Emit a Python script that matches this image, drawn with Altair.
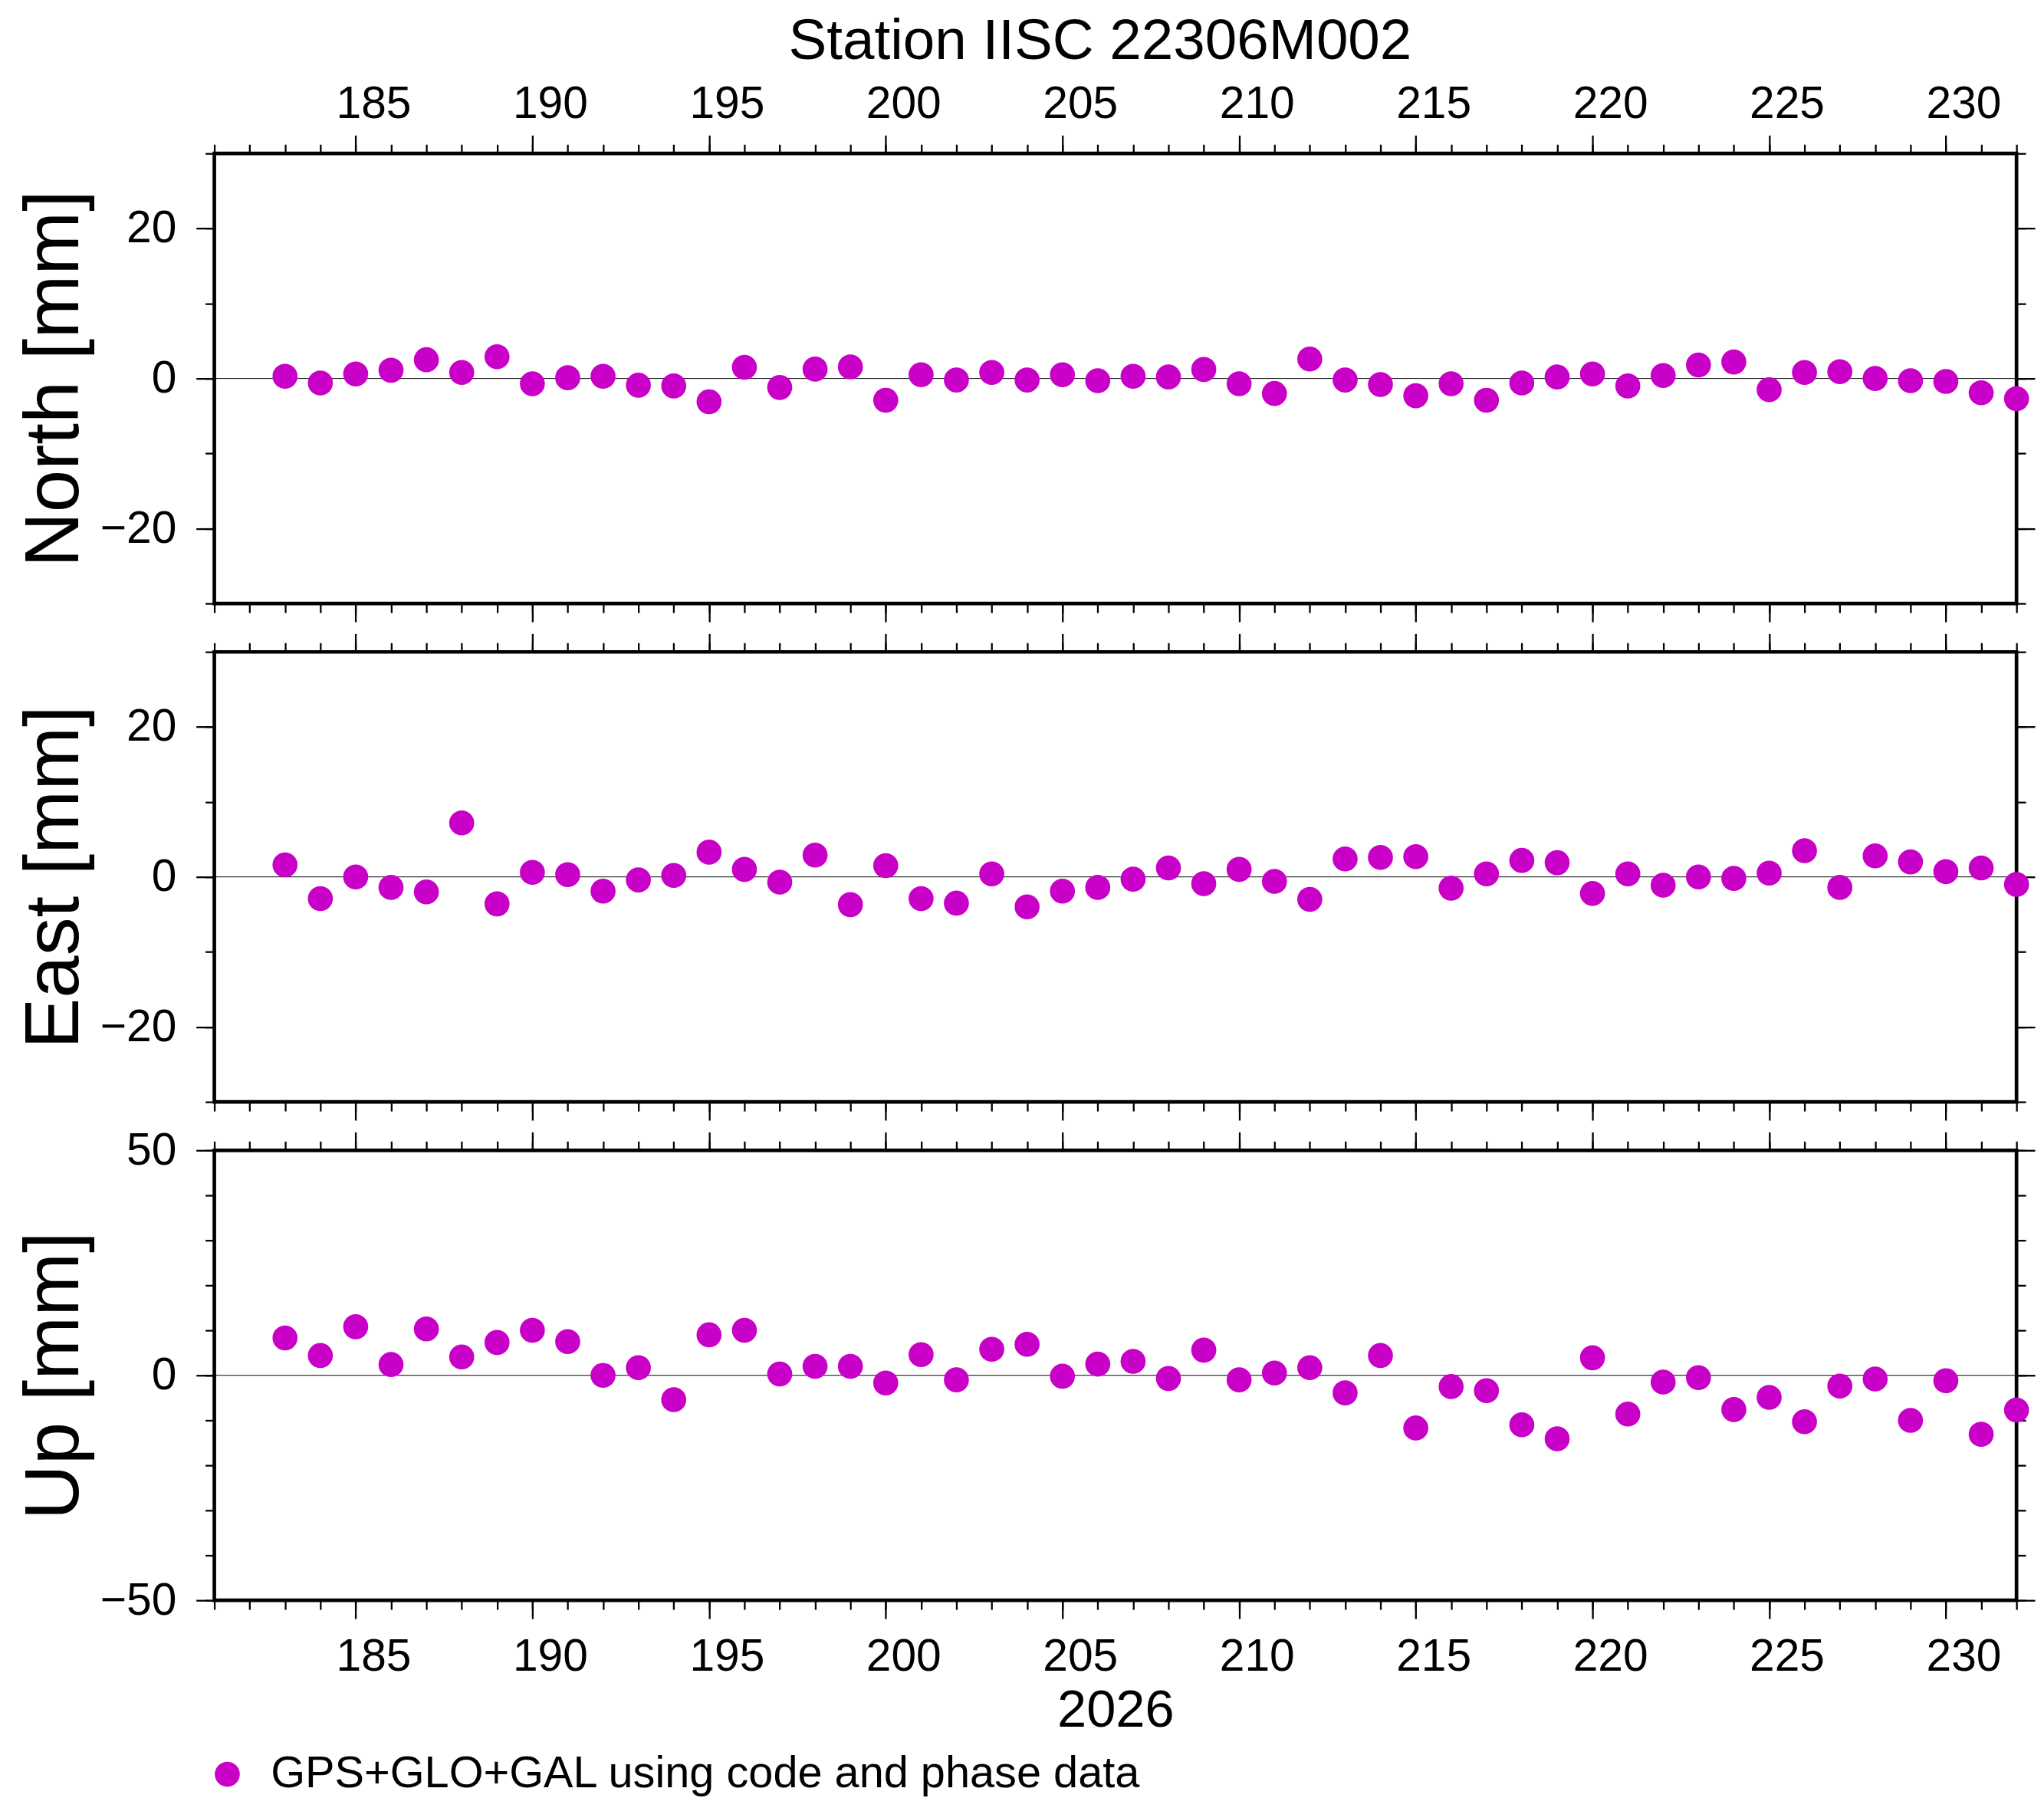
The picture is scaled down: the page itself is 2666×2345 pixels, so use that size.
import altair as alt
import pandas as pd

# day of year 2026, one solution per day
days = list(range(183, 233))

north = [0.3, -0.6, 0.6, 1.1, 2.5, 0.8, 2.9, -0.7, 0.1, 0.3,
         -0.9, -1.0, -3.1, 1.5, -1.2, 1.25, 1.55, -2.9, 0.5, -0.2,
         0.8, -0.2, 0.5, -0.3, 0.3, 0.2, 1.2, -0.7, -2.0, 2.6,
         -0.2, -0.8, -2.3, -0.7, -2.9, -0.6, 0.2, 0.6, -1.0, 0.4,
         1.8, 2.2, -1.5, 0.8, 0.9, 0.0, -0.3, -0.4, -1.9, -2.7]
east = [1.6, -2.9, 0.0, -1.4, -2.0, 7.2, -3.6, 0.6, 0.3, -1.9,
        -0.4, 0.2, 3.3, 1.0, -0.7, 2.9, -3.7, 1.5, -2.9, -3.5,
        0.4, -4.0, -1.9, -1.4, -0.3, 1.2, -0.9, 1.0, -0.6, -3.0,
        2.4, 2.6, 2.7, -1.5, 0.4, 2.2, 1.9, -2.2, 0.4, -1.1,
        0.0, -0.2, 0.5, 3.5, -1.4, 2.8, 2.0, 0.7, 1.2, -1.0]
up = [8.3, 4.4, 10.8, 2.4, 10.3, 4.1, 7.3, 10.0, 7.5, 0.0,
      1.7, -5.4, 9.0, 10.0, 0.3, 2.0, 2.0, -1.7, 4.6, -1.0,
      5.8, 6.9, -0.2, 2.5, 3.1, -0.7, 5.6, -1.0, 0.5, 1.7,
      -3.9, 4.4, -11.7, -2.5, -3.4, -11.0, -14.1, 3.9, -8.6, -1.5,
      -0.5, -7.6, -4.9, -10.3, -2.4, -0.8, -10.0, -1.2, -13.1, -7.7]

series_label = "GPS+GLO+GAL using code and phase data"
station_title = "Station IISC 22306M002"
year_title = "2026"

FONT = "Liberation Sans"
MAGENTA = "#c800c8"
W, H = 2363, 590
X_DOMAIN = [181, 232]
DAY_W = W / (X_DOMAIN[1] - X_DOMAIN[0])

x_major = list(range(185, 231, 5))
x_minor = list(range(181, 233))


def x_axis(orient, values, size, labels=False, title=None):
    opts = dict(
        orient=orient, values=values, tickSize=size, tickWidth=2.3, tickColor="black",
        domain=False, grid=False, labels=labels, labelFlush=False, labelOverlap=False,
        labelBound=False, labelFont=FONT, labelFontSize=59, labelColor="black",
        labelOffset=DAY_W / 2, format="d", title=title,
    )
    if labels:
        if orient == "top":
            opts.update(labelBaseline="alphabetic", labelPadding=23)
        else:
            opts.update(labelBaseline="top", labelPadding=21)
    if title:
        opts.update(titleFont=FONT, titleFontSize=69, titleFontWeight="normal",
                    titleColor="black", titleBaseline="top", titleY=110)
    return alt.Axis(**opts)


def y_axis(orient, values, size, labels=False, title=None):
    opts = dict(
        orient=orient, values=values, tickSize=size, tickWidth=2.3, tickColor="black",
        domain=False, grid=False, labels=labels, labelFlush=False, labelOverlap=False,
        labelBound=False, labelFont=FONT, labelFontSize=59, labelColor="black",
        labelPadding=26, format="d", title=title,
    )
    if title:
        opts.update(titleFont=FONT, titleFontSize=100, titleFontWeight="normal",
                    titleColor="black", titleBaseline="top", titleX=-258)
    return alt.Axis(**opts)


legend = alt.Legend(
    orient="bottom", title=None, direction="horizontal", padding=0, offset=17,
    labelFont=FONT, labelFontSize=58, labelColor="black", labelOffset=28, labelLimit=2000,
    symbolType="circle", symbolSize=1075, symbolStrokeWidth=0, symbolFillColor=MAGENTA,
    symbolOffset=-12,
)


def panel(values, name, y_domain, y_major, y_minor, top_labels=False, bottom_title=None):
    df = pd.DataFrame({"day": days, "mm": values, "series": series_label})
    xs = alt.Scale(domain=X_DOMAIN, nice=False, zero=False)
    ys = alt.Scale(domain=y_domain, nice=False, zero=False)
    base = alt.Chart(df)

    zero = (
        alt.Chart(pd.DataFrame({"mm": [0]}))
        .mark_rule(color="black", strokeWidth=1)
        .encode(y=alt.Y("mm:Q", scale=ys, axis=None))
    )
    dots = base.mark_circle(size=1075, opacity=1).encode(
        x=alt.X("day:Q", scale=xs, axis=x_axis("top", x_major, 24, labels=top_labels)),
        y=alt.Y("mm:Q", scale=ys, axis=y_axis("left", y_major, 24, labels=True, title=name)),
        color=alt.Color("series:N", scale=alt.Scale(range=[MAGENTA]), legend=legend),
    )
    minor_tl = base.mark_point(opacity=0).encode(
        x=alt.X("day:Q", scale=xs, axis=x_axis("top", x_minor, 12)),
        y=alt.Y("mm:Q", scale=ys, axis=y_axis("left", y_minor, 12)),
    )
    major_br = base.mark_point(opacity=0).encode(
        x=alt.X("day:Q", scale=xs,
                axis=x_axis("bottom", x_major, 24, labels=bottom_title is not None, title=bottom_title)),
        y=alt.Y("mm:Q", scale=ys, axis=y_axis("right", y_major, 24)),
    )
    minor_br = base.mark_point(opacity=0).encode(
        x=alt.X("day:Q", scale=xs, axis=x_axis("bottom", x_minor, 12)),
        y=alt.Y("mm:Q", scale=ys, axis=y_axis("right", y_minor, 12)),
    )
    return (
        alt.layer(zero, dots, minor_tl, major_br, minor_br)
        .resolve_axis(x="independent", y="independent")
        .properties(width=W, height=H)
    )


north_panel = panel(north, "North [mm]", [-30, 30], [-20, 0, 20],
                    list(range(-30, 31, 10)), top_labels=True)
east_panel = panel(east, "East [mm]", [-30, 30], [-20, 0, 20], list(range(-30, 31, 10)))
up_panel = panel(up, "Up [mm]", [-50, 50], [-50, 0, 50], list(range(-50, 51, 10)),
                 bottom_title=year_title)

chart = (
    alt.vconcat(north_panel, east_panel, up_panel, spacing=63.5, bounds="flush")
    .properties(
        padding={"left": 11, "top": 3, "right": 0, "bottom": 0},
        background="white",
        title=alt.TitleParams(
            station_title, font=FONT, fontSize=75, fontWeight="normal", color="black",
            anchor="middle", frame="group", dx=-20, offset=11,
        ),
    )
    .configure_view(stroke="black", strokeWidth=4.7)
)

chart.save("out.html", embed_options={"renderer": "svg", "actions": False})
